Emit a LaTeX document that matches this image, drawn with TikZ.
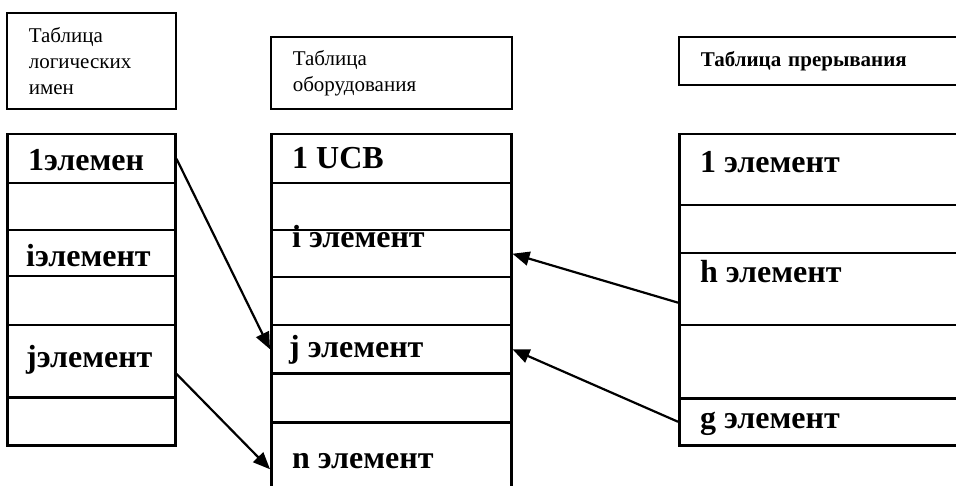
\documentclass[tikz,border=0pt]{standalone}
\usepackage{fontspec}
\setmainfont{Liberation Serif}
\usepackage{tikz}
\usetikzlibrary{arrows.meta}
\usetikzlibrary{calc}

\tikzset{
  cell/.style={draw, line width=2.5pt, anchor=north west, inner sep=0pt},
  head/.style={draw, line width=1.6pt, anchor=north west, align=left,
    inner xsep=22pt, inner ysep=0pt, font=\fontsize{21}{26}\selectfont},
  lbl/.style={anchor=base west, inner sep=0pt, font=\bfseries\fontsize{32}{38}\selectfont},
  link/.style={line width=2.2pt, -{Triangle[length=17pt,width=14pt]}}
}

\begin{document}
\begin{tikzpicture}[x=1pt,y=-1pt]
		\useasboundingbox (0,0) rectangle (956,486);
		\clip (0,0) rectangle (956,486);
		
		% headers
		\node[head, text width=125pt, minimum height=96pt] (hlog) at (6,12) {Таблица\\логических\\имен};
		\node[head, text width=197pt, minimum height=72pt] (hobo) at (270,36) {Таблица\\оборудования};
		\node[head, text width=256pt, minimum height=48pt, font=\bfseries\fontsize{21}{26}\selectfont] (hpre) at (678,36) {Таблица прерывания};
		
		% logical names
		\node[cell, minimum width=168pt, minimum height=49pt] (l1) at (6,133) {};
		\node[cell, minimum width=168pt, minimum height=47pt] (l2) at (6,182) {};
		\node[cell, minimum width=168pt, minimum height=46pt] (li) at (6,229) {};
		\node[cell, minimum width=168pt, minimum height=49pt] (l3) at (6,275) {};
		\node[cell, minimum width=168pt, minimum height=72pt] (lj) at (6,324) {};
		\node[cell, minimum width=168pt, minimum height=48pt] (l4) at (6,396) {};
		\node[lbl] at (28,171) {1элемен};
		\node[lbl] at (26,267) {iэлемент};
		\node[lbl] at (26,367) {jэлемент};
		
		% hardware
		\node[cell, minimum width=240pt, minimum height=49pt] (m1) at (270,133) {};
		\node[cell, minimum width=240pt, minimum height=47pt] (m2) at (270,182) {};
		\node[cell, minimum width=240pt, minimum height=47pt] (mi) at (270,229) {};
		\node[cell, minimum width=240pt, minimum height=48pt] (m3) at (270,276) {};
		\node[cell, minimum width=240pt, minimum height=48pt] (mj) at (270,324) {};
		\node[cell, minimum width=240pt, minimum height=49pt] (m4) at (270,372) {};
		\node[cell, minimum width=240pt, minimum height=94pt] (mn) at (270,421) {};
		\node[lbl] at (292,169) {1 UCB};
		\node[lbl] at (292,248) {i элемент};
		\node[lbl] at (289,357) {j элемент};
		\node[lbl] at (292,468) {n элемент};
		
		% interrupts
		\node[cell, minimum width=300pt, minimum height=71pt] (r1) at (678,133) {};
		\node[cell, minimum width=300pt, minimum height=48pt] (r2) at (678,204) {};
		\node[cell, minimum width=300pt, minimum height=72pt] (rh) at (678,252) {};
		\node[cell, minimum width=300pt, minimum height=73pt] (r3) at (678,324) {};
		\node[cell, minimum width=300pt, minimum height=47pt] (rg) at (678,397) {};
		\node[lbl] at (700,173) {1 элемент};
		\node[lbl] at (700,283) {h элемент};
		\node[lbl] at (700,428) {g элемент};
		
		% links
		\draw[link] (l1.east) -- (mj.west);
		\draw[link] ($(lj.north east)!0.67!(lj.south east)$) -- (mn.west);
		\draw[link] ($(rh.north west)!0.68!(rh.south west)$) -- (mi.east);
		\draw[link] (rg.west) -- (mj.east);
\end{tikzpicture}
\end{document}
